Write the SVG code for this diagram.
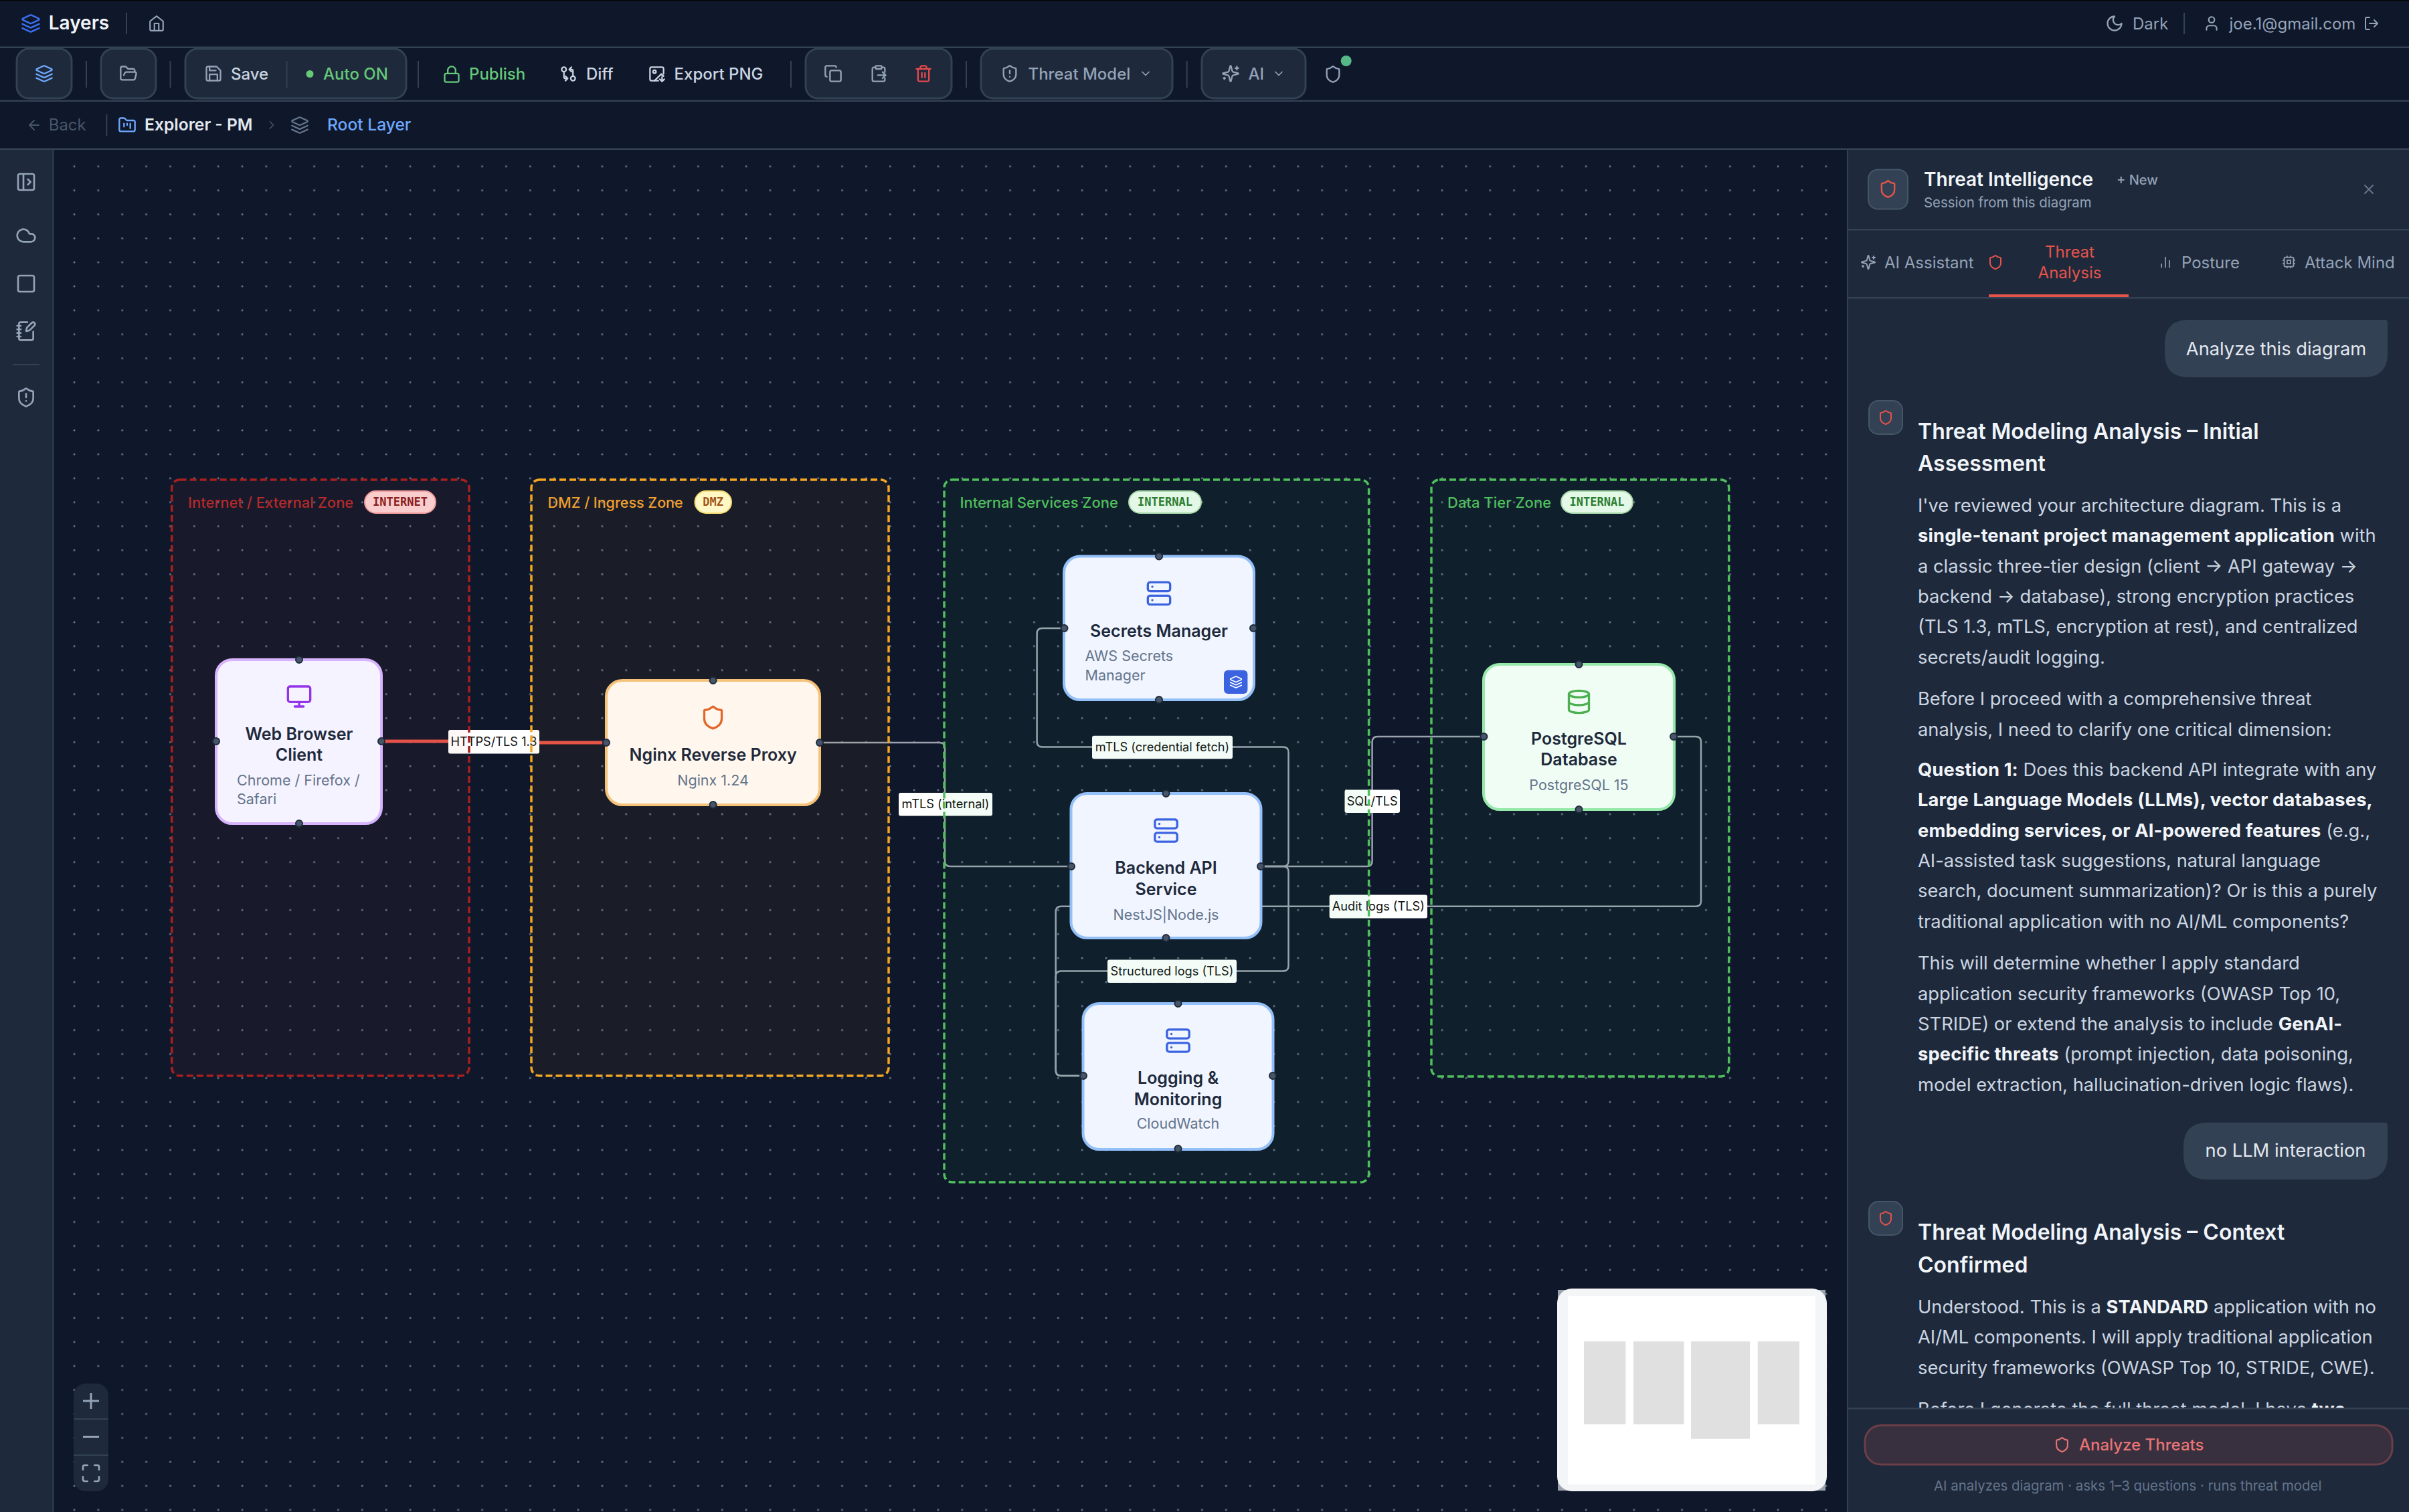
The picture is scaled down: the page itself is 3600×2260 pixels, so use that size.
<svg xmlns="http://www.w3.org/2000/svg" width="3600" height="2260" viewBox="0 0 3600 2260">
<style>
text{font-family:"Inter","Noto Sans","Liberation Sans",sans-serif}
.ic{fill:none;stroke-width:2;stroke-linecap:round;stroke-linejoin:round}
.div{stroke:#334155;stroke-width:2}
.bar{fill:#334155}
.btn{fill:#1e293b;stroke:#334155;stroke-width:3}
.tb{font-size:24px;font-weight:500;fill:#cbd5e1}
.grn{fill:#66c97a}
.mut{fill:#94a3b8}
.zt{font-size:22px;font-weight:500}
.bd{font-family:"DejaVu Sans Mono","Liberation Mono",monospace;font-size:17px;font-weight:700;text-anchor:middle}
.zone{stroke-width:3.5;stroke-dasharray:10 5}
.node{stroke-width:4}
.nt{font-size:25px;font-weight:600;fill:#1e293b;text-anchor:middle}
.ns{font-size:21.500px;fill:#64748b}
.mid{text-anchor:middle}
.port{fill:#475569;stroke:#1e293b;stroke-width:2}
.edge{fill:none;stroke:#9ca3af;stroke-width:2.5}
.lab{fill:#fff}
.lt{font-size:18.200px;fill:#111;text-anchor:middle}
.msg{font-size:27.300px;fill:#cbd5e1}
.msg tspan{font-weight:700;fill:#f1f5f9;letter-spacing:.15px}
.h{font-size:32px;font-weight:600;fill:#f1f5f9}
.tab{font-size:24px;fill:#94a3b8}
.red{stroke:#e5534b}
.gr{stroke:#94a3b8}
</style>
<defs>
<pattern id="dots" patternUnits="userSpaceOnUse" x="93" y="230.7" width="35.86" height="35.86"><circle cx="18" cy="18" r="1.5" fill="#6b7a90"/></pattern>
<symbol id="shield" viewBox="0 0 24 24"><path d="M20 13c0 5-3.5 7.5-7.66 8.95a1 1 0 0 1-.67-.01C7.5 20.5 4 18 4 13V6a1 1 0 0 1 1-1c2 0 4.5-1.2 6.24-2.72a1.17 1.17 0 0 1 1.52 0C14.51 3.81 17 5 19 5a1 1 0 0 1 1 1z"/></symbol>
<symbol id="shieldA" viewBox="0 0 24 24"><path d="M20 13c0 5-3.5 7.5-7.66 8.95a1 1 0 0 1-.67-.01C7.5 20.5 4 18 4 13V6a1 1 0 0 1 1-1c2 0 4.5-1.2 6.24-2.72a1.17 1.17 0 0 1 1.52 0C14.51 3.81 17 5 19 5a1 1 0 0 1 1 1z"/><path d="M12 8v4M12 16h.01"/></symbol>
<symbol id="layers" viewBox="0 0 24 24"><path d="M12.83 2.18a2 2 0 0 0-1.66 0L2.6 6.08a1 1 0 0 0 0 1.83l8.58 3.91a2 2 0 0 0 1.66 0l8.58-3.9a1 1 0 0 0 0-1.83Z"/><path d="m22 17.65-9.17 4.16a2 2 0 0 1-1.66 0L2 17.65"/><path d="m22 12.65-9.17 4.16a2 2 0 0 1-1.66 0L2 12.65"/></symbol>
<symbol id="home" viewBox="0 0 24 24"><path d="m3 9 9-7 9 7v11a2 2 0 0 1-2 2H5a2 2 0 0 1-2-2z"/><path d="M9 22V12h6v10"/></symbol>
<symbol id="fopen" viewBox="0 0 24 24"><path d="m6 14 1.45-2.9A2 2 0 0 1 9.24 10H20a2 2 0 0 1 1.94 2.5l-1.55 6a2 2 0 0 1-1.94 1.5H4a2 2 0 0 1-2-2V5c0-1.1.9-2 2-2h3.93a2 2 0 0 1 1.66.9l.82 1.2a2 2 0 0 0 1.66.9H18a2 2 0 0 1 2 2v2"/></symbol>
<symbol id="save" viewBox="0 0 24 24"><path d="M19 21H5a2 2 0 0 1-2-2V5a2 2 0 0 1 2-2h11l5 5v11a2 2 0 0 1-2 2z"/><path d="M17 21v-8H7v8M7 3v5h8"/></symbol>
<symbol id="lock" viewBox="0 0 24 24"><rect x="3" y="11" width="18" height="11" rx="2"/><path d="M7 11V7a5 5 0 0 1 10 0v4"/></symbol>
<symbol id="diff" viewBox="0 0 24 24"><circle cx="18" cy="18" r="3"/><circle cx="6" cy="6" r="3"/><path d="M13 6h3a2 2 0 0 1 2 2v7M11 18H8a2 2 0 0 1-2-2V9M16 9l-3-3 3-3M8 15l3 3-3 3"/></symbol>
<symbol id="imgd" viewBox="0 0 24 24"><path d="M21 12V5a2 2 0 0 0-2-2H5a2 2 0 0 0-2 2v14a2 2 0 0 0 2 2h9"/><circle cx="9" cy="9" r="2"/><path d="m21 15-3-3-9 9M19 16v6M22 19l-3 3-3-3"/></symbol>
<symbol id="copy" viewBox="0 0 24 24"><rect x="8" y="8" width="14" height="14" rx="2"/><path d="M4 16c-1.1 0-2-.9-2-2V4c0-1.1.9-2 2-2h10c1.100 0 2 .9 2 2"/></symbol>
<symbol id="paste" viewBox="0 0 24 24"><rect x="8" y="2" width="8" height="4" rx="1"/><path d="M16 4h2a2 2 0 0 1 2 2v4M8 4H6a2 2 0 0 0-2 2v14a2 2 0 0 0 2 2h12a2 2 0 0 0 2-2v-2M11 14h10M17 10l4 4-4 4"/></symbol>
<symbol id="trash" viewBox="0 0 24 24"><path d="M3 6h18M19 6v14c0 1-1 2-2 2H7c-1 0-2-1-2-2V6M8 6V4c0-1 1-2 2-2h4c1 0 2 1 2 2v2M10 11v6M14 11v6"/></symbol>
<symbol id="chev" viewBox="0 0 24 24"><path d="m6 9 6 6 6-6"/></symbol>
<symbol id="chevr" viewBox="0 0 24 24"><path d="m9 18 6-6-6-6"/></symbol>
<symbol id="spark" viewBox="0 0 24 24"><path d="M9.937 15.5A2 2 0 0 0 8.5 14.063l-6.135-1.582a.5.5 0 0 1 0-.962L8.5 9.936A2 2 0 0 0 9.937 8.5l1.582-6.135a.5.5 0 0 1 .963 0L14.063 8.500A2 2 0 0 0 15.5 9.937l6.135 1.581a.5.5 0 0 1 0 .964L15.5 14.063a2 2 0 0 0-1.437 1.437l-1.582 6.135a.5.5 0 0 1-.963 0z"/><path d="M20 3v4M22 5h-4M4 17v2M5 18H3"/></symbol>
<symbol id="moon" viewBox="0 0 24 24"><path d="M12 3a6 6 0 0 0 9 9 9 9 0 1 1-9-9Z"/></symbol>
<symbol id="user" viewBox="0 0 24 24"><path d="M19 21v-2a4 4 0 0 0-4-4H9a4 4 0 0 0-4 4v2"/><circle cx="12" cy="7" r="4"/></symbol>
<symbol id="logout" viewBox="0 0 24 24"><path d="M9 21H5a2 2 0 0 1-2-2V5a2 2 0 0 1 2-2h4M16 17l5-5-5-5M21 12H9"/></symbol>
<symbol id="back" viewBox="0 0 24 24"><path d="m12 19-7-7 7-7M19 12H5"/></symbol>
<symbol id="fkan" viewBox="0 0 24 24"><path d="M4 20h16a2 2 0 0 0 2-2V8a2 2 0 0 0-2-2h-7.930a2 2 0 0 1-1.660-.9l-.82-1.200A2 2 0 0 0 7.930 3H4a2 2 0 0 0-2 2v13c0 1.100.9 2 2 2Z"/><path d="M8 10v4M12 10v2M16 10v6"/></symbol>
<symbol id="panel" viewBox="0 0 24 24"><rect x="3" y="3" width="18" height="18" rx="2"/><path d="M9 3v18M14 9l3 3-3 3"/></symbol>
<symbol id="cloud" viewBox="0 0 24 24"><path d="M17.500 19H9a7 7 0 1 1 6.710-9h1.790a4.500 4.500 0 1 1 0 9Z"/></symbol>
<symbol id="square" viewBox="0 0 24 24"><rect x="3" y="3" width="18" height="18" rx="2"/></symbol>
<symbol id="note" viewBox="0 0 24 24"><path d="M13.400 2H6a2 2 0 0 0-2 2v16a2 2 0 0 0 2 2h12a2 2 0 0 0 2-2v-7.400M2 6h4M2 10h4M2 14h4M2 18h4"/><path d="M21.378 5.626a1 1 0 1 0-3.004-3.004l-5.010 5.012a2 2 0 0 0-.506.854l-.837 2.870a.5.5 0 0 0 .62.62l2.870-.837a2 2 0 0 0 .854-.506z"/></symbol>
<symbol id="monitor" viewBox="0 0 24 24"><rect x="2" y="3" width="20" height="14" rx="2"/><path d="M8 21h8M12 17v4"/></symbol>
<symbol id="server" viewBox="0 0 24 24"><rect x="2" y="2" width="20" height="8" rx="2"/><rect x="2" y="14" width="20" height="8" rx="2"/><path d="M6 6h.01M6 18h.01"/></symbol>
<symbol id="db" viewBox="0 0 24 24"><ellipse cx="12" cy="5" rx="9" ry="3"/><path d="M3 5V19A9 3 0 0 0 21 19V5M3 12A9 3 0 0 0 21 12"/></symbol>
<symbol id="bars" viewBox="0 0 24 24"><path d="M5 21v-6M12 21V3M19 21V9"/></symbol>
<symbol id="cpu" viewBox="0 0 24 24"><rect x="4" y="4" width="16" height="16" rx="2"/><rect x="9" y="9" width="6" height="6"/><path d="M15 2v2M15 20v2M2 15h2M2 9h2M20 15h2M20 9h2M9 2v2M9 20v2"/></symbol>
<symbol id="x" viewBox="0 0 24 24"><path d="M18 6 6 18M6 6l12 12"/></symbol>
<symbol id="max" viewBox="0 0 24 24"><path d="M8 3H5a2 2 0 0 0-2 2v3M21 8V5a2 2 0 0 0-2-2h-3M3 16v3a2 2 0 0 0 2 2h3M16 21h3a2 2 0 0 0 2-2v-3"/></symbol>
<clipPath id="chatclip"><rect x="2762" y="445" width="838" height="1659"/></clipPath>
</defs>

<rect width="3600" height="2260" fill="#0f172a"/>
<rect x="80" y="224" width="2682" height="2036" fill="url(#dots)"/>

<g id="connectors">
<path class="edge" style="stroke:#e5534b;stroke-width:5" d="M575 1108H738V1110H900"/>
<path class="edge" d="M1230 1110H1404Q1412 1110 1412 1118V1287Q1412 1295 1420 1295H1596"/>
<path class="edge" d="M1889 1295H1917.500Q1925.500 1295 1925.500 1287V1124.500Q1925.500 1116.500 1917.500 1116.500H1557.600Q1549.600 1116.500 1549.600 1108.500V947Q1549.600 939 1557.600 939H1586"/>
<path class="edge" d="M1889 1295H2042.600Q2050.600 1295 2050.600 1287V1109Q2050.600 1101 2058.600 1101H2212"/>
<path class="edge" d="M1889 1295H1917.500Q1925.500 1295 1925.500 1303V1443.400Q1925.500 1451.400 1917.500 1451.400H1585.700Q1577.700 1451.400 1577.700 1459.400V1600Q1577.700 1608 1585.700 1608H1614"/>
<path class="edge" d="M2507 1101H2534Q2542 1101 2542 1109V1346.800Q2542 1354.800 2534 1354.800H1585.700Q1577.700 1354.800 1577.700 1362.800V1600Q1577.700 1608 1585.700 1608H1614"/>
<g id="edge-labels">
<rect class="lab" x="670" y="1091" width="136" height="35.500" rx="3"/><text class="lt" x="738" y="1115">HTTPS/TLS 1.3</text>
<rect class="lab" x="1343" y="1185" width="140" height="34.500" rx="3"/><text class="lt" x="1413" y="1208">mTLS (internal)</text>
<rect class="lab" x="1632" y="1099.700" width="210" height="34.500" rx="3"/><text class="lt" x="1737" y="1123">mTLS (credential fetch)</text>
<rect class="lab" x="2009.500" y="1180.500" width="82.500" height="34.500" rx="3"/><text class="lt" x="2050.700" y="1204">SQL/TLS</text>
<rect class="lab" x="1986.700" y="1337.400" width="146.300" height="35" rx="3"/><text class="lt" x="2059.800" y="1361">Audit logs (TLS)</text>
<rect class="lab" x="1655" y="1434.400" width="193" height="34.600" rx="3"/><text class="lt" x="1751.500" y="1458">Structured logs (TLS)</text>
</g>
</g>

<g id="zone-internet">
<rect class="zone" x="256.700" y="717" width="444.300" height="891" rx="12" fill="#ef4444" fill-opacity=".045" stroke="#a81f1f"/>
<text class="zt" x="281" y="759" fill="#b32a2a">Internet / External Zone</text>
<rect x="545" y="734" width="106" height="33" rx="16.500" fill="#f9cdcd" stroke="#ef9a9a" stroke-width="2"/>
<text class="bd" x="598" y="756" fill="#8b1f1f">INTERNET</text>
</g>
<g id="zone-dmz">
<rect class="zone" x="794" y="717" width="534" height="891" rx="12" fill="#f59e0b" fill-opacity=".05" stroke="#f5a623"/>
<text class="zt" x="818.500" y="759" fill="#f0a030" style="font-size:21.500px">DMZ / Ingress Zone</text>
<rect x="1038.500" y="734" width="54.500" height="33" rx="16.500" fill="#fff8c5" stroke="#f6dd70" stroke-width="2"/>
<text class="bd" x="1065.700" y="756" fill="#a0561a">DMZ</text>
</g>
<g id="zone-internal">
<rect class="zone" x="1411" y="717" width="634.600" height="1050" rx="12" fill="#22c55e" fill-opacity=".05" stroke="#4fbf5c"/>
<text class="zt" x="1434.500" y="759" fill="#4fbf5c">Internal Services Zone</text>
<rect x="1687" y="734" width="108" height="33" rx="16.500" fill="#e3f8e6" stroke="#a5d6a7" stroke-width="2"/>
<text class="bd" x="1741" y="756" fill="#2e7d32">INTERNAL</text>
</g>
<g id="zone-data">
<rect class="zone" x="2139" y="717" width="444.700" height="892" rx="12" fill="#22c55e" fill-opacity=".05" stroke="#4fbf5c"/>
<text class="zt" x="2163" y="759" fill="#4fbf5c">Data Tier Zone</text>
<rect x="2333" y="734" width="107" height="33" rx="16.500" fill="#e3f8e6" stroke="#a5d6a7" stroke-width="2"/>
<text class="bd" x="2386.500" y="756" fill="#2e7d32">INTERNAL</text>
</g>

<g id="node-web">
<rect class="node" x="323" y="986" width="247" height="245" rx="24" fill="#f5f3ff" stroke="#d8b4fe"/>
<use href="#monitor" class="ic" x="427" y="1021" width="40" height="40" stroke="#9333ea"/>
<text class="nt" x="447" y="1106">Web Browser</text><text class="nt" x="447" y="1137">Client</text>
<text class="ns" x="354" y="1173.500">Chrome / Firefox /</text><text class="ns" x="354" y="1202">Safari</text>
<circle class="port" cx="447" cy="986" r="5"/><circle class="port" cx="447" cy="1231" r="5"/><circle class="port" cx="323" cy="1108" r="5"/><circle class="port" cx="570" cy="1108" r="5"/>
</g>
<g id="node-nginx">
<rect class="node" x="906" y="1017" width="319" height="186" rx="24" fill="#fff7ed" stroke="#f5c27a"/>
<use href="#shield" class="ic" x="1046" y="1053" width="39" height="39" stroke="#e3662a"/>
<text class="nt" x="1065.600" y="1137">Nginx Reverse Proxy</text>
<text class="ns mid" x="1065.600" y="1173.500">Nginx 1.24</text>
<circle class="port" cx="1065.600" cy="1017" r="5"/><circle class="port" cx="1065.600" cy="1203" r="5"/><circle class="port" cx="906" cy="1110" r="5"/><circle class="port" cx="1225" cy="1110" r="5"/>
</g>
<g id="node-secrets">
<rect class="node" x="1590" y="831.500" width="284" height="214.500" rx="24" fill="#f0f5ff" stroke="#93c0f8"/>
<use href="#server" class="ic" x="1712" y="867" width="40" height="40" stroke="#3b63e0"/>
<text class="nt" x="1732" y="952">Secrets Manager</text>
<text class="ns" x="1621.500" y="988">AWS Secrets</text><text class="ns" x="1621.500" y="1016.500">Manager</text>
<rect x="1829" y="1001.700" width="35.400" height="35.300" rx="6" fill="#3b63e0"/>
<use href="#layers" class="ic" x="1837" y="1009.500" width="20" height="20" stroke="#fff"/>
<circle class="port" cx="1732" cy="831.500" r="5"/><circle class="port" cx="1732" cy="1046" r="5"/><circle class="port" cx="1590.500" cy="939" r="5"/><circle class="port" cx="1873" cy="939" r="5"/>
</g>
<g id="node-backend">
<rect class="node" x="1600.500" y="1186" width="284" height="216" rx="24" fill="#f0f5ff" stroke="#93c0f8"/>
<use href="#server" class="ic" x="1722.500" y="1221.500" width="40" height="40" stroke="#3b63e0"/>
<text class="nt" x="1742.500" y="1306">Backend API</text><text class="nt" x="1742.500" y="1338">Service</text>
<text class="ns mid" x="1742.500" y="1374.700">NestJS|Node.js</text>
<circle class="port" cx="1742.500" cy="1186" r="5"/><circle class="port" cx="1742.500" cy="1402" r="5"/><circle class="port" cx="1601" cy="1295" r="5"/><circle class="port" cx="1884" cy="1295" r="5"/>
</g>
<g id="node-logging">
<rect class="node" x="1618.500" y="1500" width="284" height="218" rx="24" fill="#f0f5ff" stroke="#93c0f8"/>
<use href="#server" class="ic" x="1740.500" y="1535.500" width="40" height="40" stroke="#3b63e0"/>
<text class="nt" x="1760.500" y="1620">Logging &amp;</text><text class="nt" x="1760.500" y="1652">Monitoring</text>
<text class="ns mid" x="1760.500" y="1687">CloudWatch</text>
<circle class="port" cx="1760.500" cy="1500" r="5"/><circle class="port" cx="1760.500" cy="1717" r="5"/><circle class="port" cx="1619" cy="1608" r="5"/><circle class="port" cx="1902" cy="1608" r="5"/>
</g>
<g id="node-postgres">
<rect class="node" x="2217" y="993" width="285" height="217" rx="24" fill="#f0fdf4" stroke="#97e8ab"/>
<use href="#db" class="ic" x="2339.500" y="1029" width="40" height="40" stroke="#4caf50"/>
<text class="nt" x="2359.500" y="1113">PostgreSQL</text><text class="nt" x="2359.500" y="1144">Database</text>
<text class="ns mid" x="2359.500" y="1180.500">PostgreSQL 15</text>
<circle class="port" cx="2359.500" cy="993" r="5"/><circle class="port" cx="2359.500" cy="1210" r="5"/><circle class="port" cx="2217.500" cy="1101" r="5"/><circle class="port" cx="2501" cy="1101" r="5"/>
</g>

<g id="minimap">
<rect x="2328" y="1928" width="400" height="300" fill="#9aa3ad"/>
<rect x="2327" y="1926" width="403" height="303" rx="22" fill="#f4f5f6"/>
<rect x="2343" y="1937" width="370" height="281.700" fill="#fff"/>
<rect x="2367" y="2005" width="62.400" height="124" fill="#e0e0e0"/>
<rect x="2441" y="2005" width="75.400" height="124" fill="#e0e0e0"/>
<rect x="2527" y="2005" width="88" height="145.700" fill="#e0e0e0"/>
<rect x="2626.700" y="2005" width="62.300" height="124" fill="#e0e0e0"/>
</g>
<g id="zoom-controls">
<rect x="110" y="2068" width="52" height="161" rx="18" fill="#1e293b"/>
<rect x="110" y="2120" width="52" height="2" fill="#334155"/><rect x="110" y="2174" width="52" height="2" fill="#334155"/>
<path d="M136 2082v24M124 2094h24M124 2147.500h24" stroke="#94a3b8" stroke-width="3" fill="none"/>
<use href="#max" class="ic" x="120" y="2186" width="32" height="32" stroke="#94a3b8"/>
</g>

<g id="sidebar">
<rect x="0" y="224" width="79" height="2036" fill="#1e293b"/>
<rect x="78.500" y="224" width="2" height="2036" fill="#334155"/>
<use href="#panel" class="ic gr" x="23" y="256" width="32" height="32"/>
<use href="#cloud" class="ic gr" x="23" y="336" width="32" height="32"/>
<use href="#square" class="ic gr" x="23" y="408" width="32" height="32"/>
<use href="#note" class="ic gr" x="23" y="479" width="32" height="32"/>
<rect x="19" y="544" width="40" height="2" fill="#334155"/>
<use href="#shieldA" class="ic gr" x="23" y="578" width="32" height="32"/>
</g>

<g id="topbar">
<rect x="0" y="0" width="3600" height="1" fill="#000"/>
<rect class="bar" x="0" y="69.500" width="3600" height="2.500"/>
<use href="#layers" class="ic" x="31" y="20" width="30" height="30" stroke="#3b6ff0"/>
<text x="72.700" y="44" font-size="28" font-weight="600" fill="#f1f5f9">Layers</text>
<line class="div" x1="189" y1="19" x2="189" y2="51"/>
<use href="#home" class="ic gr" x="221" y="22" width="26" height="26"/>
<use href="#moon" class="ic gr" x="3146" y="21" width="28" height="28"/>
<text class="tab" x="3187" y="44">Dark</text>
<line class="div" x1="3264" y1="19" x2="3264" y2="51"/>
<use href="#user" class="ic gr" x="3292" y="22" width="26" height="26"/>
<text class="tab" x="3331.500" y="44">joe.1@gmail.com</text>
<use href="#logout" class="ic gr" x="3532" y="23" width="24" height="24"/>
</g>

<g id="toolbar">
<rect class="bar" x="0" y="149.500" width="3600" height="2.500"/>
<rect class="btn" x="25" y="73" width="82" height="74" rx="18"/>
<use href="#layers" class="ic" x="52" y="96" width="28" height="28" stroke="#6ea8fe"/>
<line class="div" x1="129" y1="91" x2="129" y2="131"/>
<rect class="btn" x="151" y="73" width="82" height="74" rx="18"/>
<use href="#fopen" class="ic gr" x="178" y="96" width="28" height="28"/>
<line class="div" x1="254.500" y1="91" x2="254.500" y2="131"/>
<rect class="btn" x="277" y="73" width="330" height="74" rx="18"/>
<use href="#save" class="ic gr" x="305" y="96" width="28" height="28"/>
<text class="tb" x="345" y="119">Save</text>
<line class="div" x1="428.600" y1="91" x2="428.600" y2="131"/>
<circle cx="463" cy="110.500" r="5.500" fill="#66c97a"/>
<text class="tb grn" x="483" y="119">Auto ON</text>
<line class="div" x1="625" y1="91" x2="625" y2="131"/>
<use href="#lock" class="ic" x="661" y="97" width="28" height="28" stroke="#66c97a"/>
<text class="tb grn" x="701" y="119">Publish</text>
<use href="#diff" class="ic" x="836" y="97" width="27" height="27" stroke="#cbd5e1"/>
<text class="tb" x="876" y="119">Diff</text>
<use href="#imgd" class="ic" x="968" y="97" width="27" height="27" stroke="#cbd5e1"/>
<text class="tb" x="1007.600" y="119">Export PNG</text>
<line class="div" x1="1182" y1="91" x2="1182" y2="131"/>
<rect class="btn" x="1204" y="73" width="218" height="74" rx="18"/>
<use href="#copy" class="ic gr" x="1231" y="96" width="28" height="28"/>
<use href="#paste" class="ic gr" x="1299" y="96" width="28" height="28"/>
<use href="#trash" class="ic red" x="1366" y="96" width="28" height="28" style="stroke:#e5484d"/>
<line class="div" x1="1444" y1="91" x2="1444" y2="131"/>
<rect class="btn" x="1466" y="73" width="286" height="74" rx="18"/>
<use href="#shieldA" class="ic gr" x="1495" y="96" width="28" height="28"/>
<text class="tb mut" x="1536.500" y="119">Threat Model</text>
<use href="#chev" class="ic gr" x="1702" y="100" width="20" height="20"/>
<line class="div" x1="1773.700" y1="91" x2="1773.700" y2="131"/>
<rect class="btn" x="1796" y="73" width="155" height="74" rx="18"/>
<use href="#spark" class="ic gr" x="1825" y="96" width="28" height="28"/>
<text class="tb mut" x="1865.500" y="119">AI</text>
<use href="#chev" class="ic gr" x="1901" y="100" width="20" height="20"/>
<use href="#shield" class="ic gr" x="1978" y="97" width="28" height="28"/>
<circle cx="2011.700" cy="91" r="8" fill="#56b886"/>
</g>

<g id="breadcrumb">
<rect class="bar" x="0" y="221.500" width="3600" height="2.500"/>
<use href="#back" class="ic" x="39" y="175" width="24" height="24" stroke="#475569"/>
<text x="72.700" y="195" font-size="24" fill="#475569">Back</text>
<line class="div" x1="159.400" y1="171" x2="159.400" y2="203"/>
<use href="#fkan" class="ic" x="176" y="173" width="28" height="28" stroke="#6ea8fe"/>
<text x="216" y="195" font-size="24.600" font-weight="600" fill="#e2e8f0">Explorer - PM</text>
<use href="#chevr" class="ic" x="396" y="177" width="20" height="20" stroke="#475569"/>
<use href="#layers" class="ic" x="434" y="173" width="28" height="28" stroke="#64748b"/>
<text x="489" y="195" font-size="24.600" font-weight="500" fill="#6ea8fe">Root Layer</text>
</g>

<g id="threat-panel">
<rect x="2761" y="224" width="839" height="2036" fill="#1e293b"/>
<rect x="2760" y="224" width="2" height="2036" fill="#334155"/>
<rect x="2792" y="253.500" width="59" height="59" rx="14" fill="#334155" stroke="#475569" stroke-width="2"/>
<use href="#shield" class="ic red" x="2807" y="268" width="29" height="29"/>
<text x="2875" y="277.500" font-size="28" font-weight="600" fill="#f1f5f9">Threat Intelligence</text>
<text x="3163" y="275.500" font-size="20" font-weight="500" fill="#94a3b8">+ New</text>
<text x="2875" y="310" font-size="20.400" fill="#94a3b8">Session from this diagram</text>
<use href="#x" class="ic" x="3528" y="271" width="24" height="24" stroke="#64748b"/>
<rect x="2762" y="342" width="838" height="2.500" fill="#334155"/>
<use href="#spark" class="ic gr" x="2780" y="380" width="24" height="24"/>
<text class="tab" x="2816" y="401">AI Assistant</text>
<use href="#shield" class="ic red" x="2970" y="380" width="24" height="24"/>
<text class="tab mid" x="3093" y="384.600" style="fill:#e5534b">Threat</text>
<text class="tab mid" x="3093" y="416" style="fill:#e5534b">Analysis</text>
<rect x="2972" y="440" width="209" height="4" fill="#e5534b"/>
<use href="#bars" class="ic gr" x="3226" y="382" width="20" height="20"/>
<text class="tab" x="3260" y="401">Posture</text>
<use href="#cpu" class="ic gr" x="3410" y="381" width="21" height="21"/>
<text class="tab" x="3444" y="401">Attack Mind</text>
<rect x="2762" y="444" width="838" height="2.500" fill="#334155"/>
<g clip-path="url(#chatclip)">
<path d="M3271 478H3564Q3568 478 3568 482V528Q3568 564 3532 564H3271Q3235 564 3235 528V514Q3235 478 3271 478Z" fill="#334155"/>
<text class="mid" x="3401.500" y="531" font-size="27.300" fill="#e2e8f0">Analyze this diagram</text>
<rect x="2793" y="599" width="50" height="50" rx="14" fill="#334155" stroke="#475569" stroke-width="2"/>
<use href="#shield" class="ic red" x="2806" y="612" width="24" height="24"/>
<text class="h" x="2866" y="655.500">Threat Modeling Analysis – Initial</text>
<text class="h" x="2866" y="704">Assessment</text>
<text class="msg" x="2866" y="765">I've reviewed your architecture diagram. This is a</text>
<text class="msg" x="2866" y="810.300"><tspan>single-tenant project management application</tspan> with</text>
<text class="msg" x="2866" y="855.600">a classic three-tier design (client → API gateway →</text>
<text class="msg" x="2866" y="900.900">backend → database), strong encryption practices</text>
<text class="msg" x="2866" y="946.200">(TLS 1.3, mTLS, encryption at rest), and centralized</text>
<text class="msg" x="2866" y="991.500">secrets/audit logging.</text>
<text class="msg" x="2866" y="1054.300">Before I proceed with a comprehensive threat</text>
<text class="msg" x="2866" y="1099.600">analysis, I need to clarify one critical dimension:</text>
<text class="msg" x="2866" y="1160"><tspan>Question 1:</tspan> Does this backend API integrate with any</text>
<text class="msg" x="2866" y="1205.300"><tspan>Large Language Models (LLMs), vector databases,</tspan></text>
<text class="msg" x="2866" y="1250.600"><tspan>embedding services, or AI-powered features</tspan> (e.g.,</text>
<text class="msg" x="2866" y="1295.900">AI-assisted task suggestions, natural language</text>
<text class="msg" x="2866" y="1341.200">search, document summarization)? Or is this a purely</text>
<text class="msg" x="2866" y="1386.500">traditional application with no AI/ML components?</text>
<text class="msg" x="2866" y="1449.300">This will determine whether I apply standard</text>
<text class="msg" x="2866" y="1494.600">application security frameworks (OWASP Top 10,</text>
<text class="msg" x="2866" y="1539.900">STRIDE) or extend the analysis to include <tspan>GenAI-</tspan></text>
<text class="msg" x="2866" y="1585.200"><tspan>specific threats</tspan> (prompt injection, data poisoning,</text>
<text class="msg" x="2866" y="1630.500">model extraction, hallucination-driven logic flaws).</text>
<path d="M3299 1678H3564Q3568 1678 3568 1682V1727Q3568 1763 3532 1763H3299Q3263 1763 3263 1727V1714Q3263 1678 3299 1678Z" fill="#334155"/>
<text class="mid" x="3415.500" y="1729" font-size="27.300" fill="#e2e8f0">no LLM interaction</text>
<rect x="2793" y="1796" width="50" height="50" rx="14" fill="#334155" stroke="#475569" stroke-width="2"/>
<use href="#shield" class="ic red" x="2806" y="1809" width="24" height="24"/>
<text class="h" x="2866" y="1853">Threat Modeling Analysis – Context</text>
<text class="h" x="2866" y="1902">Confirmed</text>
<text class="msg" x="2866" y="1963">Understood. This is a <tspan>STANDARD</tspan> application with no</text>
<text class="msg" x="2866" y="2008">AI/ML components. I will apply traditional application</text>
<text class="msg" x="2866" y="2053.500">security frameworks (OWASP Top 10, STRIDE, CWE).</text>
<text class="msg" x="2866" y="2116">Before I generate the full threat model, I have <tspan>two</tspan></text>
</g>
<rect x="2762" y="2104" width="838" height="2.500" fill="#334155"/>
<rect x="2787" y="2130.500" width="788" height="58.500" rx="24" fill="#382f3f" stroke="#6b3f47" stroke-width="3"/>
<use href="#shield" class="ic" x="3069" y="2147" width="25" height="25" stroke="#e87474"/>
<text x="3107" y="2168" font-size="24" font-weight="500" fill="#e87474">Analyze Threats</text>
<text x="2890" y="2228" font-size="20.400" fill="#64748b">AI analyzes diagram · asks 1–3 questions · runs threat model</text>
</g>
</svg>
